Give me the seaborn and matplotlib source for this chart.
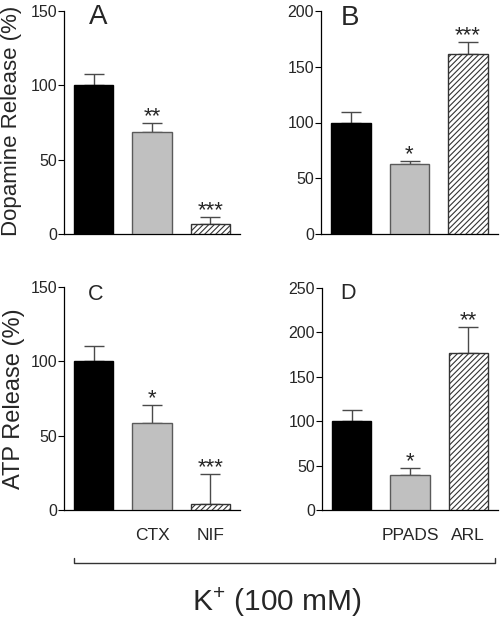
import numpy as np
import pandas as pd
import matplotlib
matplotlib.use('Agg')
import matplotlib.pyplot as plt
from matplotlib.lines import Line2D
import seaborn as sns

# data (percent of K+ control, mean and upper SEM)
ca_labels = ["K+", "CTX", "NIF"]
p2_labels = ["K+", "PPADS", "ARL"]

dopa_ca_mean = [100, 68.5, 7]
dopa_ca_sem = [7.6, 6.4, 4.6]
dopa_p2_mean = [100, 62.5, 161.7]
dopa_p2_sem = [9.2, 3.2, 10.5]

atp_ca_mean = [100, 58.6, 4]
atp_ca_sem = [10.0, 12.1, 20.0]
atp_p2_mean = [100, 39.4, 177]
atp_p2_sem = [12.5, 7.8, 29.0]

stars_a = ["", "**", "***"]
stars_b = ["", "*", "***"]
stars_c = ["", "*", "***"]
stars_d = ["", "*", "**"]

sns.set_style("ticks")
plt.rcParams['font.family'] = ['Liberation Sans', 'DejaVu Sans']
plt.rcParams['mathtext.fontset'] = 'custom'
plt.rcParams['mathtext.rm'] = 'Liberation Sans'
plt.rcParams['mathtext.it'] = 'Liberation Sans:italic'
plt.rcParams['hatch.linewidth'] = 0.8
plt.rcParams['hatch.color'] = '#333333'

W, H = 500, 619
fig = plt.figure(figsize=(W / 100, H / 100), dpi=100)


def px_axes(left, top, right, bottom):
    return fig.add_axes([left / W, 1 - bottom / H, (right - left) / W, (bottom - top) / H])


fills = ['black', '#c0c0c0', 'white']
edges = ['black', '#5a5a5a', '#333333']


def panel(ax, labels, means, sems, stars, ymax, letter, letter_xy, letter_size, show_labels):
    df = pd.DataFrame({'cond': labels, 'val': means})
    sns.barplot(data=df, x='cond', y='val', hue='cond', palette=fills, legend=False,
                width=0.67, errorbar=None, ax=ax, zorder=3)
    for i, p in enumerate(ax.patches):
        p.set_edgecolor(edges[i])
        p.set_linewidth(1.0)
        if i == 2:
            p.set_hatch('//////')
    x = np.arange(len(means))
    ax.errorbar(x, means, yerr=[np.zeros(len(sems)), sems], fmt='none', ecolor='#4a4a4a',
                elinewidth=1.0, capsize=7.5, capthick=1.0, zorder=2)
    for i, s in enumerate(stars):
        if s:
            ax.annotate(s, (i, means[i] + sems[i]), xytext=(0, 0.5), textcoords='offset points',
                        ha='center', va='baseline', fontsize=16)
    ax.set_xlim(-0.51, 2.51)
    ax.set_ylim(0, ymax)
    ax.set_yticks(np.arange(0, ymax + 1, 50))
    ax.tick_params(axis='y', labelsize=11.5, length=4, width=0.8, pad=1, color='black')
    ax.tick_params(axis='x', length=0, labelsize=12.5, pad=13)
    if show_labels:
        ax.set_xticks(x)
        ax.set_xticklabels([""] + labels[1:])
    else:
        ax.set_xticks([])
    ax.set_xlabel("")
    ax.set_ylabel("")
    for sp in ['left', 'bottom']:
        ax.spines[sp].set_linewidth(0.9)
        ax.spines[sp].set_color('black')
    sns.despine(ax=ax)
    fig.text(letter_xy[0] / W, 1 - letter_xy[1] / H, letter, fontsize=letter_size,
             ha='center', va='center')


ax_a = px_axes(64, 11, 240, 234)
ax_b = px_axes(321, 11, 498, 234)
ax_c = px_axes(64, 287, 240, 510)
ax_d = px_axes(322, 288, 498, 510)

panel(ax_a, ca_labels, dopa_ca_mean, dopa_ca_sem, stars_a, 150, "A", (98, 17), 20, False)
panel(ax_b, p2_labels, dopa_p2_mean, dopa_p2_sem, stars_b, 200, "B", (350, 18), 20, False)
panel(ax_c, ca_labels, atp_ca_mean, atp_ca_sem, stars_c, 150, "C", (96, 294), 15.5, True)
panel(ax_d, p2_labels, atp_p2_mean, atp_p2_sem, stars_d, 250, "D", (348, 293), 15.5, True)

fig.text(12 / W, 1 - 121 / H, "Dopamine Release (%)", rotation=90, ha='center', va='center', fontsize=16)
fig.text(14 / W, 1 - 399 / H, "ATP Release (%)", rotation=90, ha='center', va='center', fontsize=17)

# bracket under the bottom row
by = 1 - 562.7 / H
tick = 4.5 / H
fig.add_artist(Line2D([74 / W, 74 / W, 495 / W, 495 / W], [by + tick, by, by, by + tick],
                      color='#333333', linewidth=1.0))
fig.text(277 / W, 1 - 602 / H, r"K$^{\mathregular{+}}$ (100 mM)", ha='center', va='center', fontsize=21.5)

fig.savefig('out.png', dpi=100)
